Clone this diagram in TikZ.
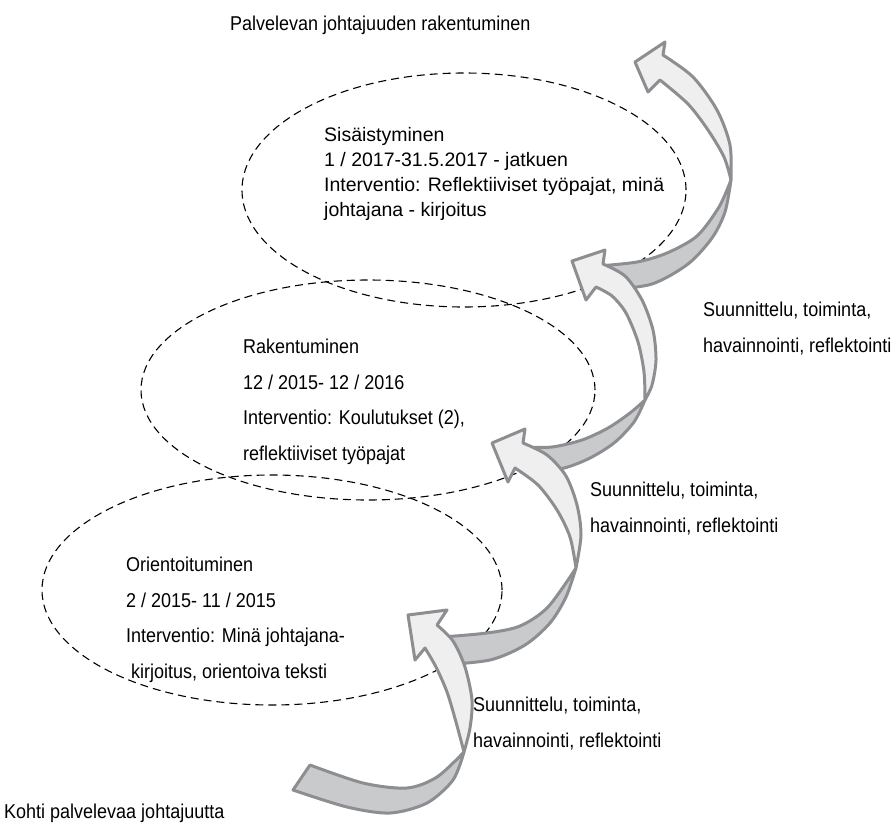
\documentclass[tikz,border=0pt]{standalone}
\usepackage{fontspec}
\setmainfont{Liberation Sans}
\newfontfamily\narrowsans[FakeStretch=0.9]{Liberation Sans}
\usepackage{tikz}
\definecolor{ribbonline}{RGB}{141,142,145}
\definecolor{ribbonfront}{RGB}{239,239,240}
\definecolor{ribbonback}{RGB}{201,202,204}
\tikzset{
	phase/.style={draw=black, line width=1.1pt, dash pattern=on 8pt off 5pt},
	front/.style={draw=ribbonline, fill=ribbonfront, line width=3pt, line join=round},
	back/.style={draw=ribbonline, fill=ribbonback, line width=3pt, line join=round},
	lbl/.style={anchor=base west, inner sep=0pt, align=left, font=\narrowsans\fontsize{20}{35.5}\selectfont},
	toplbl/.style={lbl, font=\fontsize{19.5}{24.7}\selectfont}
}

\begin{document}
\begin{tikzpicture}[x=1pt, y=-1pt]
		%%%%% START %%%%%
		\useasboundingbox (0,0) rectangle (892,825);
		
		\draw[phase] (464,190) ellipse [x radius=222pt, y radius=117pt];
		\draw[phase] (368,390) ellipse [x radius=227pt, y radius=110pt];
		\draw[phase] (272,590) ellipse [x radius=230pt, y radius=115pt];
		
		% top ribbon
		\filldraw[back] (731,180) -- plot[smooth] coordinates {(731,180) (725,212) (712,238) (688,264) (652,284) (608,290)} -- (598,266) -- plot[smooth] coordinates {(598,266) (637,262) (667,253) (697,236) (719,207) (731,180)} -- cycle;
		\filldraw[front] (635,62) -- (665,42) -- (663,55) -- plot[smooth] coordinates {(663,55) (693,77) (717,110) (730,145) (731,180)} -- plot[smooth] coordinates {(731,180) (724,157) (708,130) (688,104) (660,80)} -- (648,92) -- cycle;
		
		\filldraw[back] (645,400) -- plot[smooth] coordinates {(645,400) (634,422) (614,443) (588,459) (560,469) (524,472)} -- (524,447) -- plot[smooth] coordinates {(524,447) (552,447) (582,440) (608,428) (630,413) (645,400)} -- cycle;
		\filldraw[front] (572,261) -- (605,250) -- (603,264) -- plot[smooth] coordinates {(603,264) (625,276) (642,300) (653,330) (656,360) (652,385) (645,400)} -- plot[smooth] coordinates {(645,400) (644,372) (638,342) (626,313) (612,296) (596,287)} -- (586,300) -- cycle;
		
		\filldraw[back] (576,568) -- plot[smooth] coordinates {(576,568) (566,597) (550,623) (525,645) (490,660) (440,665)} -- (442,637) -- plot[smooth] coordinates {(442,637) (487,633) (520,626) (548,607) (576,568)} -- cycle;
		\filldraw[front] (492,443) -- (525,429) -- (523,443) -- plot[smooth] coordinates {(523,443) (547,455) (566,476) (577,505) (581,535) (576,568)} -- plot[smooth] coordinates {(576,568) (570,537) (557,510) (538,485) (515,468)} -- (508,482) -- cycle;
		
		% bottom ribbon
		\filldraw[back] (464,752) -- plot[smooth] coordinates {(464,752) (453,780) (427,803) (390,813) (347,807) (293,790)} -- (310,765) -- plot[smooth] coordinates {(310,765) (363,783) (407,788) (437,777) (464,752)} -- cycle;
		\filldraw[front] (408,615) -- (447,610) -- (437,625) -- plot[smooth] coordinates {(437,625) (453,641) (465,667) (472,700) (470,728) (464,752)} -- plot[smooth] coordinates {(464,752) (456,722) (447,692) (436,667) (425,648)} -- (415,660) -- cycle;
		
		% anchors sit on the last line
		\node[toplbl] (sisaist) at (324,216) {Sisäistyminen\\1 / 2017-31.5.2017 - jatkuen\\Interventio: Reflektiiviset työpajat, minä\\johtajana - kirjoitus};
		\node[lbl] (rakent) at (243,460) {Rakentuminen\\12 / 2015- 12 / 2016\\Interventio: Koulutukset (2),\\reflektiiviset työpajat};
		\node[lbl] (orient) at (126,678) {Orientoituminen\\2 / 2015- 11 / 2015\\Interventio: Minä johtajana-\\\hspace*{5pt}kirjoitus, orientoiva teksti};
		
		\node[lbl] (sykliA) at (703,352) {Suunnittelu, toiminta,\\havainnointi, reflektointi};
		\node[lbl] (sykliB) at (590,532) {Suunnittelu, toiminta,\\havainnointi, reflektointi};
		\node[lbl] (sykliC) at (473,747) {Suunnittelu, toiminta,\\havainnointi, reflektointi};
		
		\node[lbl] (tavoite) at (230,30) {Palvelevan johtajuuden rakentuminen};
		\node[lbl] (lahto) at (4,818) {Kohti palvelevaa johtajuutta};
		
		%%%%% END %%%%%
	\end{tikzpicture}
\end{document}
